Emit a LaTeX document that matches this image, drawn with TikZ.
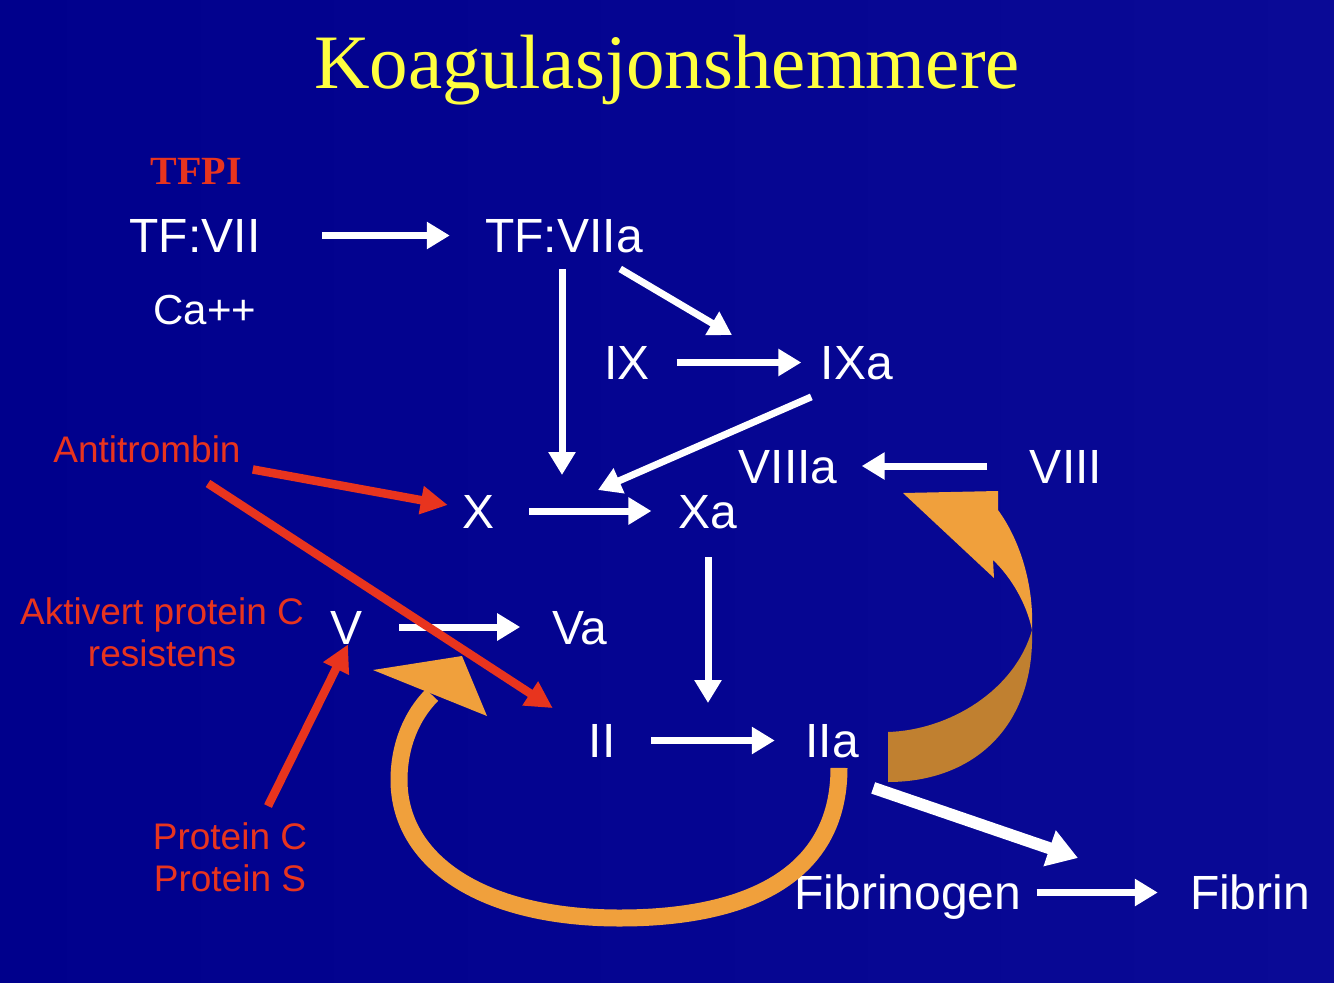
\documentclass[tikz,border=0pt]{standalone}
\usepackage{fontspec}
\setmainfont{Liberation Sans}
\newfontfamily\titlefont{Liberation Serif}
\usetikzlibrary{arrows.meta,calc}
\definecolor{bgL}{RGB}{0,0,140}
\definecolor{bgR}{RGB}{10,10,150}
\definecolor{redc}{RGB}{232,52,30}
\definecolor{yellowc}{RGB}{255,255,64}
\definecolor{orangeL}{RGB}{240,160,60}
\definecolor{orangeD}{RGB}{192,128,48}
\begin{document}
\begin{tikzpicture}[x=1pt,y=-1pt,
  lbl/.style={inner sep=0pt, text height=34.4pt, text depth=0pt, font=\fontsize{48}{52}\selectfont, text=white},
  rlbl/.style={inner sep=0pt, font=\fontsize{37}{42}\selectfont, text=redc, align=center},
  warr/.style={draw=white, line width=7pt, -{Triangle[length=23pt,width=26pt]}},
  rarr/.style={draw=redc, line width=8.5pt, -{Triangle[length=27pt,width=27pt]}},
]
\useasboundingbox (0,0) rectangle (1334,983);
\shade[left color=bgL, right color=bgR] (0,0) rectangle (1334,983);

% texts
\node[inner sep=0pt, text height=51pt, text depth=0pt, font=\titlefont\fontsize{77}{80}\selectfont, text=yellowc] (title) at (667,62.5) {Koagulasjonshemmere};
\node[inner sep=0pt, text height=26.5pt, text depth=0pt, font=\titlefont\bfseries\fontsize{40}{44}\selectfont, text=redc] (tfpi) at (196,171.5) {TFPI};

\node[lbl, minimum width=150pt] (tfvii) at (195,235.5) {TF:VII};
\node[lbl, minimum width=172pt] (tfviia) at (564,235.5) {TF:VIIa};
\node[lbl, minimum width=90pt, text height=30pt, font=\fontsize{42}{46}\selectfont] (ca) at (205,309) {Ca++};
\node[lbl, minimum width=53pt] (ix) at (627,362.5) {IX};
\node[lbl, minimum width=81pt] (ixa) at (857,362.5) {IXa};
\node[lbl, minimum width=123pt] (viiia) at (788,466) {VIIIa};
\node[lbl, minimum width=97pt] (viii) at (1066,466) {VIII};
\node[lbl, minimum width=28pt] (x) at (479,511) {X};
\node[lbl, minimum width=53pt] (xa) at (708,511) {Xa};
\node[lbl, minimum width=29pt] (v) at (347,627) {V};
\node[lbl, minimum width=50pt] (va) at (580,627) {Va};
\node[lbl, minimum width=46pt] (ii) at (602,740.5) {II};
\node[lbl, minimum width=72pt] (iia) at (832,740.5) {IIa};
\node[lbl, minimum width=223pt] (fibrinogen) at (908,892.5) {Fibrinogen};
\node[lbl, minimum width=122pt] (fibrin) at (1250,892.5) {Fibrin};

\node[rlbl, text height=26.5pt, text depth=0pt, minimum width=187pt] (antitrombin) at (147,449) {Antitrombin};
\node[rlbl, anchor=north] (apc) at (162,597) {Aktivert protein C\\resistens};
\node[rlbl, anchor=north] (pcs) at (230,822) {Protein C\\Protein S};

% orange feedback arrows
\draw[orangeL, line width=17pt] ([shift={(7,10)}]iia.south) .. controls (839,880) and (740,918) .. (620,918) .. controls (480,918) and (399,860) .. (399,780) .. controls (399,745) and (412,715) .. (432,695);
\fill[orangeL] (373,670) -- (462,656) -- (487,716) -- cycle;
\fill[orangeL] (903,493) -- (998,491) -- (998,510) .. controls (1020,540) and (1034,585) .. (1032,630) .. controls (1027,605) and (1012,578) .. (993,560) -- (994,578) -- cycle;
\fill[orangeD] (1032,630) .. controls (1035,725) and (975,782) .. (888,782) -- (888,732) .. controls (950,730) and (1015,690) .. (1032,630) -- cycle;

% white arrows
\coordinate (xjoin) at (562,475);
\coordinate (ixjoin) at (732,335);
\coordinate (xajoin) at (598,490);
\coordinate (iijoin) at (708,703);
\coordinate (fibjoin) at (1078,858);
\draw[warr, shorten <=52pt, shorten >=28pt] (tfvii.east) -- (tfviia.west);
\draw[warr] ([shift={(-2,16)}]tfviia.south) -- (xjoin);
\draw[warr] ([shift={(-30,16)}]tfviia.south east) -- (ixjoin);
\draw[warr, shorten <=23pt, shorten >=15pt] (ix.east) -- (ixa.west);
\draw[warr] ([shift={(-5,17)}]ixa.south west) -- (xajoin);
\draw[warr, shorten <=34pt, shorten >=27pt] (x.east) -- (xa.west);
\draw[warr, shorten <=30pt, shorten >=12pt] (viii.west) -- (viiia.east);
\draw[warr] ([shift={(0,29)}]xa.south) -- (iijoin);
\draw[warr, shorten <=36pt, shorten >=32pt] (v.east) -- (va.west);
\draw[warr, shorten <=26pt, shorten >=21pt] (ii.east) -- (iia.west);
\draw[warr, line width=12pt, -{Triangle[length=30pt,width=36pt]}] ([shift={(5,30)}]iia.south east) -- (fibjoin);
\draw[warr, shorten <=15pt, shorten >=31pt] (fibrinogen.east) -- (fibrin.west);

% red arrows
\draw[rarr] ([shift={(12,7)}]antitrombin.south east) -- ([shift={(-15,-6)}]x.west);
\draw[rarr] ([shift={(61,21)}]antitrombin.south) -- ([shift={(-26,-15)}]ii.north west);
\draw[rarr] ([shift={(38,-16)}]pcs.north) -- ([shift={(1,0)}]v.south);
\end{tikzpicture}
\end{document}
